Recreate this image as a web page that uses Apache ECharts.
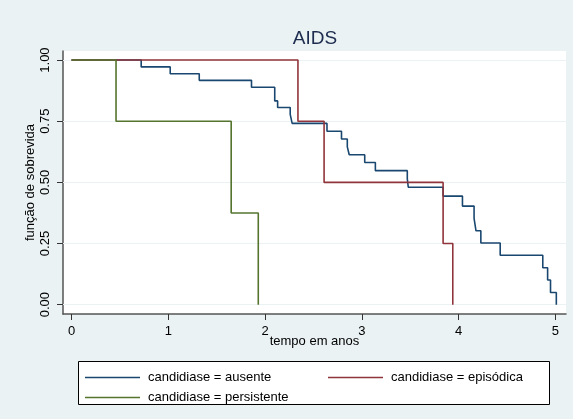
<!DOCTYPE html>
<html lang="pt-BR">
<head>
<meta charset="UTF-8">
<title>AIDS - Kaplan-Meier</title>
<script src="https://cdn.jsdelivr.net/npm/echarts@6/dist/echarts.min.js"></script>
<style>
html, body { margin: 0; padding: 0; background: #eaf2f3; }
#chart { width: 573px; height: 419px; }
</style>
</head>
<body>
<div id="chart"></div>
<script>
// curvas de sobrevida (tempo do evento, valor depois da queda)
const ausenteTempo = [0, 0.72, 1.02, 1.32, 1.86, 2.10, 2.13, 2.26, 2.28, 2.64, 2.79, 2.85, 2.87, 3.03, 3.14, 3.47, 3.48, 3.84, 4.04, 4.16, 4.18, 4.23, 4.43, 4.87, 4.92, 4.95, 5.01];
const ausenteSobrev = [1, 0.972, 0.944, 0.917, 0.889, 0.833, 0.806, 0.778, 0.741, 0.709, 0.677, 0.645, 0.613, 0.581, 0.548, 0.514, 0.480, 0.444, 0.403, 0.353, 0.302, 0.252, 0.202, 0.151, 0.101, 0.050, 0];
const episodicaTempo = [0, 2.34, 2.61, 3.84, 3.94];
const episodicaSobrev = [1, 0.75, 0.5, 0.25, 0];
const persistenteTempo = [0, 0.46, 1.65, 1.93];
const persistenteSobrev = [1, 0.75, 0.375, 0];

const xTicks = [0, 1, 2, 3, 4, 5];
const yTicks = [0, 0.25, 0.5, 0.75, 1];
const nomes = ['candidiase = ausente', 'candidiase = episódica', 'candidiase = persistente'];

const fonte = 'Liberation Sans, Arial, sans-serif';
const pares = (t, s) => t.map((v, i) => [v, s[i]]);

const chart = echarts.init(document.getElementById('chart'));

function curva(nome, dados, cor, z) {
  return {
    name: nome,
    type: 'line',
    step: 'end',
    data: dados,
    symbol: 'none',
    showSymbol: false,
    animation: false,
    z: z,
    lineStyle: { color: cor, width: 1.6 },
    itemStyle: { color: cor }
  };
}

function legenda(nome, x, y) {
  return {
    data: [nome],
    left: x, top: y,
    icon: 'rect',
    itemWidth: 55, itemHeight: 1.6,
    textStyle: { fontFamily: fonte, fontSize: 13, color: '#000', padding: [0, 0, 0, 3] },
    selectedMode: false
  };
}

chart.setOption({
  animation: false,
  backgroundColor: '#eaf2f3',
  title: {
    text: 'AIDS',
    left: 310,
    top: 24,
    textAlign: 'center',
    textStyle: { fontFamily: fonte, fontSize: 19, fontWeight: 'normal', color: '#1c2b4e' }
  },
  grid: {
    left: 63, right: 7, top: 51, bottom: 105,
    show: true, backgroundColor: '#ffffff', borderWidth: 0
  },
  graphic: [{
    type: 'rect',
    shape: { x: 78.5, y: 361.5, width: 471, height: 43 },
    style: { fill: '#ffffff', stroke: '#000000', lineWidth: 1 },
    z: 0
  }],
  legend: [
    legenda(nomes[0], 80, 366),
    legenda(nomes[1], 323, 366),
    legenda(nomes[2], 80, 386)
  ],
  xAxis: {
    type: 'value',
    min: -0.088, max: 5.11,
    name: 'tempo em anos',
    nameLocation: 'middle',
    nameMoveOverlap: false,
    nameGap: 21,
    nameTextStyle: { fontFamily: fonte, fontSize: 13, color: '#000' },
    axisLine: { show: true, onZero: false, lineStyle: { color: '#555', width: 1.5 } },
    axisTick: { show: true, length: 6, customValues: xTicks, lineStyle: { color: '#333' } },
    axisLabel: { customValues: xTicks, margin: 11, fontFamily: fonte, fontSize: 13, color: '#000' },
    splitLine: { show: false }
  },
  yAxis: {
    type: 'value',
    min: -0.038, max: 1.037,
    name: 'função de sobrevida',
    nameLocation: 'middle',
    nameMoveOverlap: false,
    nameGap: 26,
    nameRotate: 90,
    nameTextStyle: { fontFamily: fonte, fontSize: 13, color: '#000' },
    axisLine: { show: true, onZero: false, lineStyle: { color: '#555', width: 1.5 } },
    axisTick: { show: true, length: 6, customValues: yTicks, lineStyle: { color: '#333' } },
    axisLabel: {
      customValues: yTicks, rotate: 90, margin: 11,
      fontFamily: fonte, fontSize: 13, color: '#000',
      formatter: v => v.toFixed(2)
    },
    splitLine: { show: false }
  },
  series: [
    {
      // linhas de grade horizontais, por baixo das curvas
      type: 'line',
      data: [],
      z: 1,
      silent: true,
      markLine: {
        z: 1,
        silent: true, symbol: 'none', animation: false,
        label: { show: false },
        lineStyle: { color: '#eaf2f3', type: 'solid', width: 1.2 },
        data: yTicks.map(v => ({ yAxis: v }))
      }
    },
    curva(nomes[0], pares(ausenteTempo, ausenteSobrev), '#1a476f', 2),
    curva(nomes[1], pares(episodicaTempo, episodicaSobrev), '#90353b', 3),
    curva(nomes[2], pares(persistenteTempo, persistenteSobrev), '#55752f', 4)
  ]
});
</script>
</body>
</html>
